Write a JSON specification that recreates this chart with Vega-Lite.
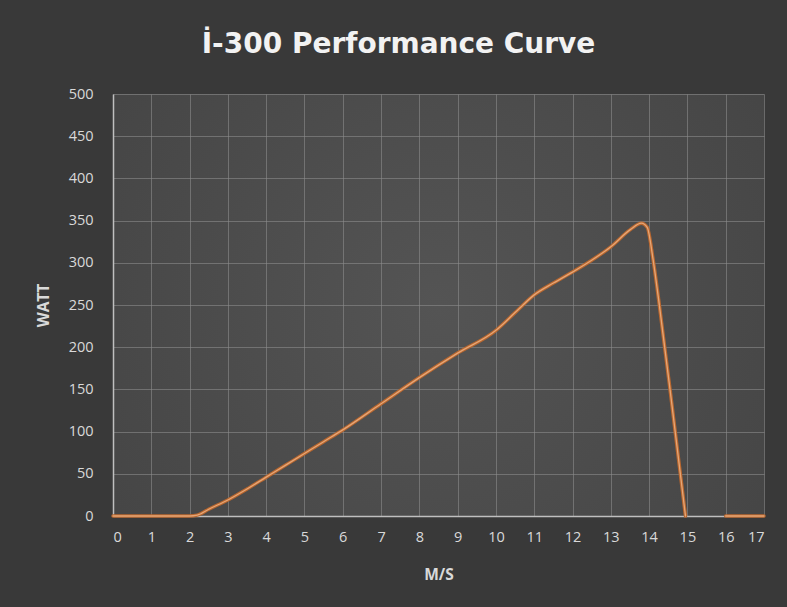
{
  "$schema": "https://vega.github.io/schema/vega-lite/v6.json",
  "autosize": "none",
  "width": 651,
  "height": 422,
  "padding": {"left": 113, "top": 94, "right": 23, "bottom": 91},
  "background": "#393939",
  "title": {
    "text": "İ-300 Performance Curve",
    "color": "#f2f2f2",
    "font": "DejaVu Sans",
    "fontSize": 28,
    "fontWeight": "bold",
    "anchor": "middle",
    "frame": "group",
    "dx": -40,
    "offset": 27
  },
  "config": {
    "view": {
      "stroke": null,
      "fill": {
        "gradient": "radial",
        "x1": 0.5, "y1": 0.5, "r1": 0,
        "x2": 0.5, "y2": 0.5, "r2": 0.75,
        "stops": [
          {"offset": 0, "color": "#545454"},
          {"offset": 1, "color": "#424242"}
        ]
      }
    },
    "axis": {
      "labelColor": "#d9d9d9",
      "labelFont": "Open Sans",
      "labelFontSize": 14.5,
      "titleColor": "#d9d9d9",
      "titleFont": "Open Sans",
      "titleFontSize": 15.5,
      "titleFontWeight": "bold",
      "gridColor": "#8c8c8c",
      "gridOpacity": 0.6,
      "gridWidth": 1,
      "ticks": false,
      "domainColor": "#bfbfbf",
      "domainWidth": 1.5
    }
  },
  "data": {
    "values": [
      {"seg": "A", "ms": 0, "watt": 0},
      {"seg": "A", "ms": 1, "watt": 0},
      {"seg": "A", "ms": 2, "watt": 0},
      {"seg": "A", "ms": 2.2, "watt": 1},
      {"seg": "A", "ms": 2.5, "watt": 8},
      {"seg": "A", "ms": 3, "watt": 19},
      {"seg": "A", "ms": 3.5, "watt": 32},
      {"seg": "A", "ms": 4, "watt": 46},
      {"seg": "A", "ms": 4.5, "watt": 60},
      {"seg": "A", "ms": 5, "watt": 74},
      {"seg": "A", "ms": 5.5, "watt": 88},
      {"seg": "A", "ms": 6, "watt": 102},
      {"seg": "A", "ms": 7, "watt": 133},
      {"seg": "A", "ms": 8, "watt": 164},
      {"seg": "A", "ms": 9, "watt": 193},
      {"seg": "A", "ms": 10, "watt": 220},
      {"seg": "A", "ms": 10.5, "watt": 241},
      {"seg": "A", "ms": 11, "watt": 262},
      {"seg": "A", "ms": 11.5, "watt": 276},
      {"seg": "A", "ms": 12, "watt": 289},
      {"seg": "A", "ms": 12.5, "watt": 303},
      {"seg": "A", "ms": 13, "watt": 319},
      {"seg": "A", "ms": 13.5, "watt": 339},
      {"seg": "A", "ms": 13.8, "watt": 347},
      {"seg": "A", "ms": 13.95, "watt": 342},
      {"seg": "A", "ms": 14.1, "watt": 305},
      {"seg": "A", "ms": 14.25, "watt": 256},
      {"seg": "A", "ms": 14.6, "watt": 130},
      {"seg": "A", "ms": 14.95, "watt": 0},
      {"seg": "B", "ms": 16, "watt": 0},
      {"seg": "B", "ms": 17, "watt": 0}
    ]
  },
  "encoding": {
    "x": {
      "field": "ms",
      "type": "quantitative",
      "title": "M/S",
      "scale": {"domain": [0, 17], "nice": false},
      "axis": {
        "values": [0,1,2,3,4,5,6,7,8,9,10,11,12,13,14,15,16,17],
        "labelPadding": 14,
        "titlePadding": 24
      }
    },
    "y": {
      "field": "watt",
      "type": "quantitative",
      "title": "WATT",
      "scale": {"domain": [0, 500], "nice": false},
      "axis": {
        "values": [0,50,100,150,200,250,300,350,400,450,500],
        "labelPadding": 20,
        "titlePadding": 17
      }
    },
    "detail": {"field": "seg"}
  },
  "layer": [
    {
      "mark": {"type": "line", "interpolate": "monotone", "color": "#b9672f", "strokeWidth": 3.5, "strokeCap": "round"}
    },
    {
      "mark": {"type": "line", "interpolate": "monotone", "color": "#e6a676", "strokeWidth": 1.3, "strokeCap": "round"}
    }
  ]
}
